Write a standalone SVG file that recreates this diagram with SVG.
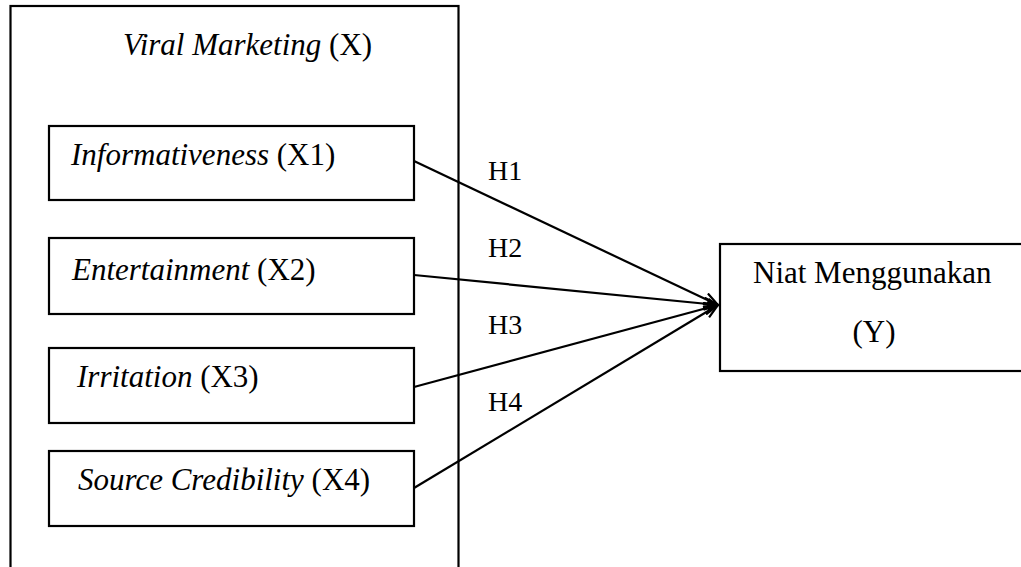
<svg xmlns="http://www.w3.org/2000/svg" width="1021" height="567" viewBox="0 0 1021 567">
<style>
.box{fill:#fff;stroke:#000;stroke-width:2.2}
.t{font-family:"Liberation Serif","Times New Roman",serif;font-size:31px;fill:#000}
.i{font-style:italic}
.h{font-family:"Liberation Serif","Times New Roman",serif;font-size:28px;fill:#000}
.c{stroke:#000;stroke-width:2.2;fill:none}
</style>
<defs>
<marker id="arr" viewBox="0 0 16 14" refX="15" refY="7" markerWidth="16" markerHeight="14" markerUnits="userSpaceOnUse" orient="auto">
<path d="M1,1 L15,7 L1,13" fill="none" stroke="#000" stroke-width="2.2"/>
<path d="M4,4.5 L15,7 L4,9.5 z" fill="#000"/>
</marker>
</defs>
<rect width="1021" height="567" fill="#fff"/>
<g id="outer">
<rect class="box" x="10.5" y="6" width="448" height="600"/>
<text class="t" x="123" y="55"><tspan class="i">Viral Marketing</tspan> (X)</text>
</g>
<g id="x1">
<rect class="box" x="49" y="126" width="365" height="74"/>
<text class="t" x="71" y="165"><tspan class="i">Informativeness</tspan> (X1)</text>
</g>
<g id="x2">
<rect class="box" x="49" y="238" width="365" height="76"/>
<text class="t" x="72" y="280"><tspan class="i">Entertainment</tspan> (X2)</text>
</g>
<g id="x3">
<rect class="box" x="49" y="348" width="365" height="75"/>
<text class="t" x="77" y="387"><tspan class="i">Irritation</tspan> (X3)</text>
</g>
<g id="x4">
<rect class="box" x="49" y="451" width="365" height="75"/>
<text class="t" x="78" y="490"><tspan class="i">Source Credibility</tspan> (X4)</text>
</g>
<g id="y">
<rect class="box" x="720" y="244" width="320" height="127"/>
<text class="t" x="753" y="283">Niat Menggunakan</text>
<text class="t" x="874" y="342" text-anchor="middle">(Y)</text>
</g>
<g id="connectors">
<line class="c" x1="414" y1="161" x2="718" y2="305" marker-end="url(#arr)"/>
<line class="c" x1="414" y1="275" x2="718" y2="305" marker-end="url(#arr)"/>
<line class="c" x1="414" y1="387" x2="718" y2="305" marker-end="url(#arr)"/>
<line class="c" x1="414" y1="488" x2="718" y2="305" marker-end="url(#arr)"/>
<text class="h" x="488" y="180">H1</text>
<text class="h" x="488" y="257">H2</text>
<text class="h" x="488" y="334">H3</text>
<text class="h" x="488" y="411">H4</text>
</g>
</svg>
